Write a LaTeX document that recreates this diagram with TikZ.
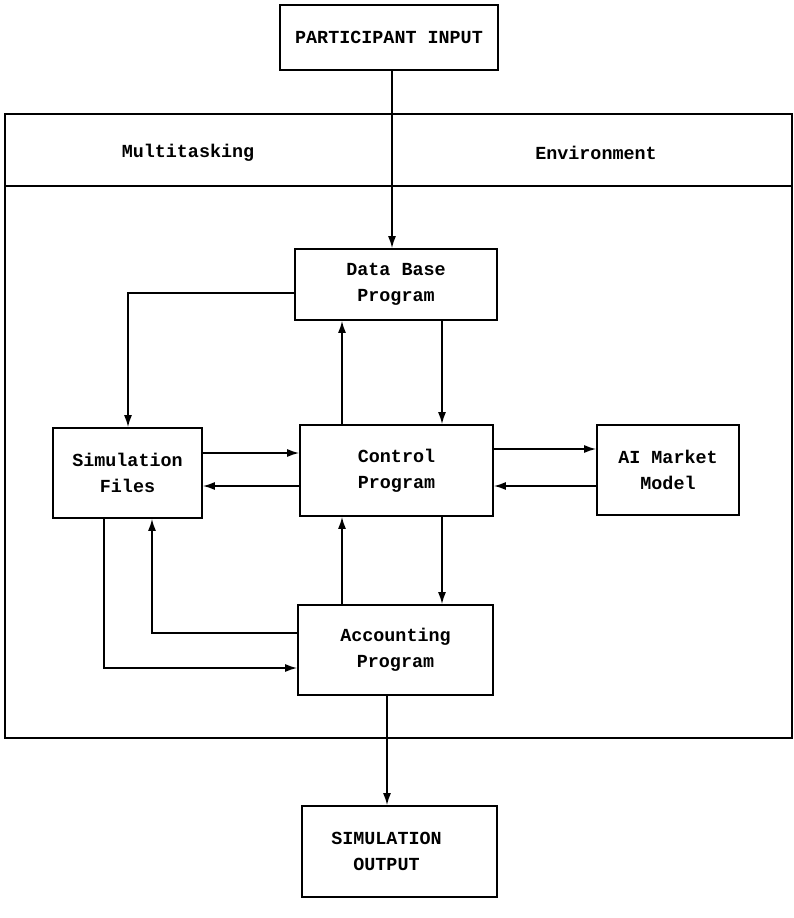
\documentclass[tikz,border=0pt]{standalone}
\usepackage{fontspec}
\setmonofont{Liberation Mono}
\usetikzlibrary{arrows.meta}
\begin{document}
\begin{tikzpicture}[x=1pt,y=-1pt,
  box/.style={draw, line width=1.8pt, inner sep=0pt, align=center,
    font=\ttfamily\bfseries\fontsize{18.4}{26}\selectfont},
  lbl/.style={font=\ttfamily\bfseries\fontsize{18.4}{22}\selectfont},
  conn/.style={line width=1.5pt, -{Latex[length=12pt,width=8pt]}},
  frame/.style={line width=1.6pt}]
\useasboundingbox (0,0) rectangle (794,918);
% environment frame
\draw[frame] (5,114) rectangle (792,738);
\draw[frame] (5,186) -- (792,186);
\node[lbl] (mt) at (188,153) {Multitasking};
\node[lbl] (env) at (596,153) {Environment};
% boxes
\node[box, minimum width=218, minimum height=65] (pi) at (389,37.5) {PARTICIPANT INPUT};
\node[box, minimum width=202, minimum height=71] (db) at (396,284.5) {Data Base\\Program};
\node[box, minimum width=193, minimum height=91] (cp) at (396.5,470.5) {Control\\Program};
\node[box, minimum width=149, minimum height=90] (sf) at (127.5,473) {Simulation\\Files};
\node[box, minimum width=142, minimum height=90] (ai) at (668,470) {AI Market\\Model};
\node[box, minimum width=195, minimum height=90] (ac) at (395.5,650) {Accounting\\Program};
\node[box, minimum width=195, minimum height=91] (so) at (399.5,851.5) {SIMULATION\hspace*{26pt}\\OUTPUT\hspace*{26pt}};
% routing coordinates
\coordinate (c392) at (392,0);
\coordinate (c128) at (128,0);
\coordinate (c442) at (442,0);
\coordinate (c342) at (342,0);
\coordinate (c152) at (152,0);
\coordinate (c104) at (104,0);
\coordinate (c387) at (387,0);
\coordinate (r293) at (0,293);
\coordinate (r453) at (0,453);
\coordinate (r486) at (0,486);
\coordinate (r449) at (0,449);
\coordinate (r633) at (0,633);
\coordinate (r668) at (0,668);
% connectors
\draw[conn] (c392 |- pi.south) -- (c392 |- db.north);
\draw[conn] (db.west |- r293) -- (c128 |- r293) -- (c128 |- sf.north);
\draw[conn] (c442 |- db.south) -- (c442 |- cp.north);
\draw[conn] (c342 |- cp.north) -- (c342 |- db.south);
\draw[conn] (sf.east |- r453) -- (cp.west |- r453);
\draw[conn] (cp.west |- r486) -- (sf.east |- r486);
\draw[conn] (cp.east |- r449) -- (ai.west |- r449);
\draw[conn] (ai.west |- r486) -- (cp.east |- r486);
\draw[conn] (c342 |- ac.north) -- (c342 |- cp.south);
\draw[conn] (c442 |- cp.south) -- (c442 |- ac.north);
\draw[conn] (ac.west |- r633) -- (c152 |- r633) -- (c152 |- sf.south);
\draw[conn] (c104 |- sf.south) -- (c104 |- r668) -- (ac.west |- r668);
\draw[conn] (c387 |- ac.south) -- (c387 |- so.north);
\end{tikzpicture}
\end{document}
